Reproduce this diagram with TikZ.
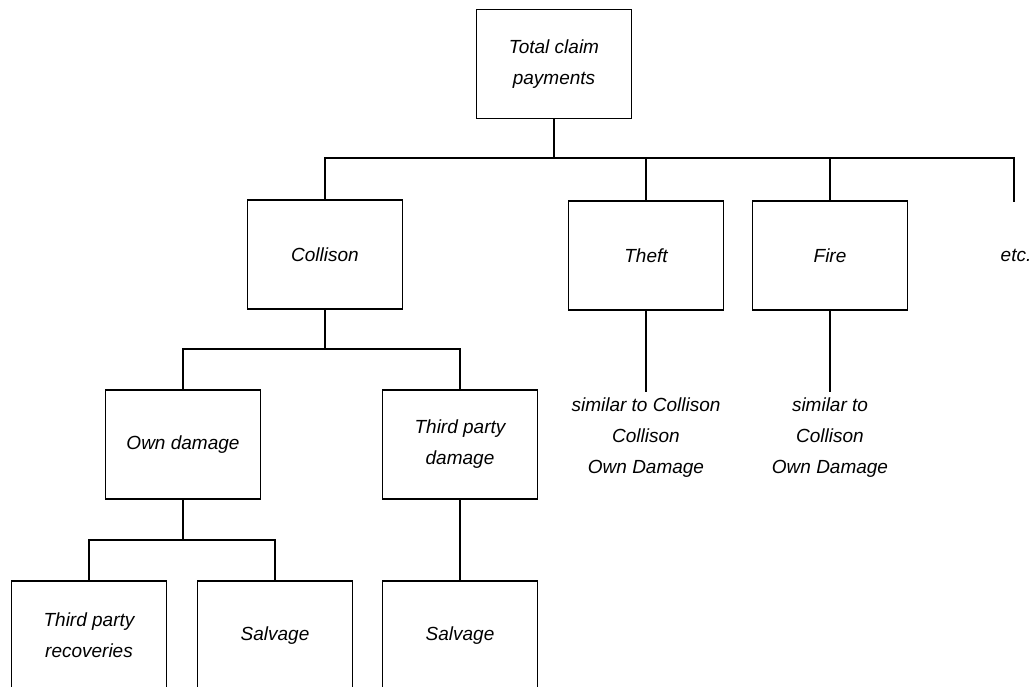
\documentclass[tikz,border=0pt]{standalone}
\usepackage{fontspec}
\setmainfont{Liberation Sans}

\begin{document}
\begin{tikzpicture}[x=1pt,y=-1pt,
    txt/.style={font=\fontsize{19}{31}\selectfont\itshape},
    box/.style={txt,draw,line width=1.6pt,minimum width=155pt,minimum height=109pt,align=center},
    note/.style={txt,align=center,inner sep=6pt},
    link/.style={line width=1.6pt}]
  \useasboundingbox (0,0) rectangle (1031,687);
  \clip (0,0) rectangle (1031,687);
  % boxes
  \node[box] (total) at (554,64) {Total claim\\payments};
  \node[box] (coll) at (325,254.5) {Collison};
  \node[box] (theft) at (646,255.5) {Theft};
  \node[box] (fire) at (830,255.5) {Fire};
  \node[txt,inner sep=0pt] (etc) at (1016,255) {etc.};
  \node[box] (own) at (183,444.5) {Own damage};
  \node[box] (tpd) at (460,444.5) {Third party\\damage};
  \node[box] (tpr) at (89,635.5) {Third party\\recoveries};
  \node[box] (salvA) at (275,635.5) {Salvage};
  \node[box] (salvB) at (460,635.5) {Salvage};
  \node[note,anchor=north] (theftnote) at (646,392) {similar to Collison\\Collison\\Own Damage};
  \node[note,anchor=north] (firenote) at (830,392) {similar to\\Collison\\Own Damage};
  % connectors
  \coordinate (topbar) at (554,158);
  \coordinate (etcend) at (1014,202);
  \draw[link] (total) -- (topbar);
  \draw[link] (coll.north) |- (etcend |- topbar) -- (etcend);
  \foreach \n in {theft,fire}
    \draw[link] (\n.north) -- (\n.north |- topbar);
  \coordinate (collbar) at (325,349);
  \draw[link] (coll) -- (collbar);
  \draw[link] (own.north) |- (collbar) -| (tpd.north);
  \coordinate (ownbar) at (183,540);
  \draw[link] (own) -- (ownbar);
  \draw[link] (tpr.north) |- (ownbar) -| (salvA.north);
  \draw[link] (tpd) -- (salvB);
  \draw[link] (theft) -- (theftnote);
  \draw[link] (fire) -- (firenote);
\end{tikzpicture}
\end{document}
